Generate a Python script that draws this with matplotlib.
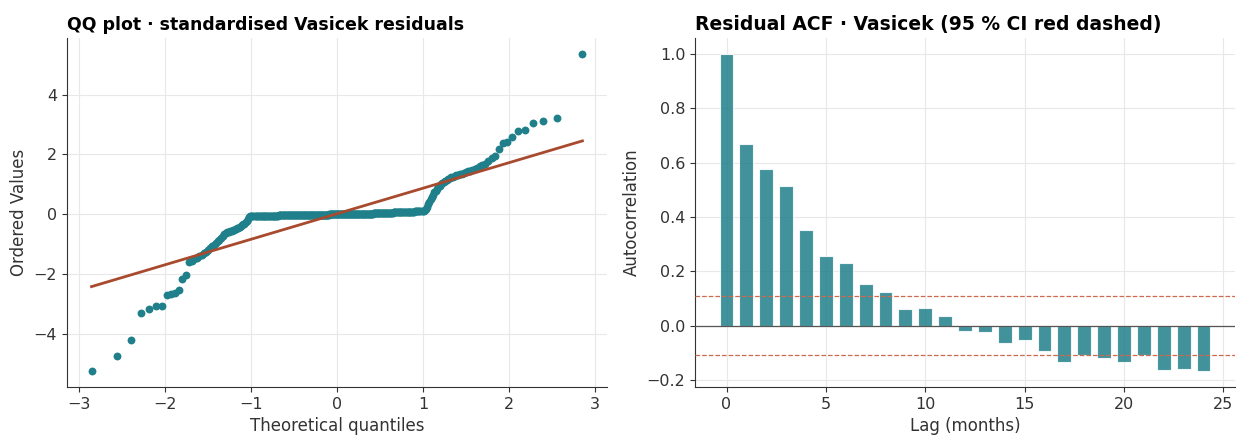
import matplotlib
matplotlib.use("Agg")
import matplotlib.pyplot as plt
import numpy as np
from statistics import NormalDist

# sorted standardised residuals (n = 324)
resid_low_tail = [-5.25, -4.75, -4.20, -3.31, -3.17, -3.08, -3.07, -2.69, -2.66, -2.64, -2.53, -2.17, -2.03]
resid_low_ramp = [-1.60, -1.55, -1.50, -1.45, -1.40, -1.35, -1.30, -1.25, -1.19, -1.13,
                  -1.07, -1.02, -0.96, -0.91, -0.85, -0.78, -0.73, -0.67, -0.62, -0.60,
                  -0.59, -0.57, -0.55, -0.53, -0.51, -0.49, -0.47, -0.45, -0.43, -0.40,
                  -0.37, -0.34, -0.31, -0.27, -0.22, -0.15, -0.08]
resid_flat = [
    -0.06, -0.06, -0.06, -0.06, -0.06, -0.06, -0.06, -0.06, -0.06, -0.06,
    -0.05, -0.05, -0.05, -0.05, -0.05, -0.05, -0.05, -0.05, -0.05, -0.05,
    -0.05, -0.05, -0.05, -0.05, -0.05, -0.05, -0.05, -0.05, -0.05, -0.05,
    -0.04, -0.04, -0.04, -0.04, -0.04, -0.04, -0.04, -0.04, -0.04, -0.04,
    -0.04, -0.04, -0.04, -0.04, -0.04, -0.04, -0.04, -0.04, -0.04, -0.04,
    -0.03, -0.03, -0.03, -0.03, -0.03, -0.03, -0.03, -0.03, -0.03, -0.03,
    -0.03, -0.03, -0.03, -0.03, -0.03, -0.03, -0.03, -0.03, -0.03, -0.03,
    -0.02, -0.02, -0.02, -0.02, -0.02, -0.02, -0.02, -0.02, -0.02, -0.02,
    -0.02, -0.02, -0.02, -0.02, -0.02, -0.02, -0.02, -0.02, -0.02, -0.02,
    -0.01, -0.01, -0.01, -0.01, -0.01, -0.01, -0.01, -0.01, -0.01, -0.01,
    0.00, 0.00, 0.00, 0.00, 0.00, 0.00, 0.00, 0.00, 0.00, 0.00, 0.00, 0.00,
    0.00, 0.00, 0.00, 0.00, 0.00, 0.00, 0.00, 0.00, 0.00, 0.00, 0.00, 0.00, 0.00, 0.00, 0.00,
    0.01, 0.01, 0.01, 0.01, 0.01, 0.01, 0.01, 0.01, 0.01, 0.01,
    0.01, 0.01, 0.01, 0.01, 0.01, 0.01, 0.01, 0.01, 0.01, 0.01,
    0.02, 0.02, 0.02, 0.02, 0.02, 0.02, 0.02, 0.02, 0.02,
    0.02, 0.02, 0.02, 0.02, 0.02, 0.02, 0.02, 0.02, 0.02,
    0.03, 0.03, 0.03, 0.03, 0.03, 0.03, 0.03, 0.03, 0.03, 0.03,
    0.04, 0.04, 0.04, 0.04, 0.04, 0.04, 0.04, 0.04,
    0.05, 0.05, 0.05, 0.05, 0.05, 0.05, 0.05, 0.05,
    0.06, 0.06, 0.06, 0.06, 0.06, 0.06, 0.06, 0.06,
    0.07, 0.07, 0.07, 0.07, 0.07, 0.07, 0.07,
    0.08, 0.08, 0.08, 0.08, 0.08, 0.09, 0.09, 0.09, 0.09,
    0.10, 0.10, 0.10, 0.10, 0.11, 0.11, 0.11, 0.11,
    0.12, 0.14, 0.18, 0.24]
resid_high_ramp = [0.33, 0.42, 0.51, 0.59, 0.66, 0.73, 0.79, 0.85, 0.90, 0.95,
                   1.00, 1.04, 1.08, 1.12, 1.15, 1.19, 1.21, 1.23, 1.25, 1.28,
                   1.30, 1.32, 1.34, 1.36, 1.38, 1.41, 1.43, 1.45, 1.48, 1.51,
                   1.55, 1.60, 1.65]
resid_high_tail = [1.69, 1.78, 1.89, 1.94, 2.18, 2.39, 2.41, 2.58, 2.79, 2.81, 3.04, 3.11, 3.23, 5.36]

# residual autocorrelation, lags 0..24
lags = list(range(25))
acf_vals = [1.000, 0.670, 0.578, 0.515, 0.352, 0.258, 0.229, 0.153, 0.125, 0.060,
            0.065, 0.035, -0.018, -0.022, -0.062, -0.054, -0.093, -0.133, -0.108, -0.120,
            -0.133, -0.108, -0.162, -0.159, -0.168]

teal = "#1f7f8a"
rust = "#a84a2e"

plt.rcParams['font.family'] = ['DejaVu Sans']
plt.rcParams['xtick.labelsize'] = 11.5
plt.rcParams['ytick.labelsize'] = 11.5
plt.rcParams['xtick.color'] = '#333333'
plt.rcParams['ytick.color'] = '#333333'

ordered = np.array(resid_low_tail + resid_low_ramp + resid_flat + resid_high_ramp + resid_high_tail)
n = len(ordered)

# Filliben order statistic medians, same as scipy.stats.probplot
m = np.empty(n)
m[-1] = 0.5 ** (1.0 / n)
m[0] = 1 - m[-1]
m[1:-1] = (np.arange(2, n) - 0.3175) / (n + 0.365)
nd = NormalDist()
theo = np.array([nd.inv_cdf(p) for p in m])
slope, intercept = np.polyfit(theo, ordered, 1)

fig, (ax1, ax2) = plt.subplots(1, 2, figsize=(12.4, 4.37), dpi=100)
fig.subplots_adjust(left=0.054, right=0.996, top=0.913, bottom=0.114, wspace=0.163)

for ax in (ax1, ax2):
    ax.grid(True, color='#e8e8e8', linewidth=0.8)
    ax.set_axisbelow(True)
    ax.spines['top'].set_visible(False)
    ax.spines['right'].set_visible(False)
    ax.spines['left'].set_color('#333333')
    ax.spines['bottom'].set_color('#333333')

# QQ plot
ax1.scatter(theo, ordered, s=32, color=teal, zorder=3, linewidths=0)
ax1.plot(theo[[0, -1]], intercept + slope * theo[[0, -1]], color=rust, linewidth=2, zorder=4)
ax1.set_title('QQ plot · standardised Vasicek residuals', loc='left', fontweight='bold', fontsize=12.5)
ax1.set_xlabel('Theoretical quantiles', fontsize=12, color='#333333')
ax1.set_ylabel('Ordered Values', fontsize=12, color='#333333')

# ACF
ci = 1.96 / np.sqrt(n)
ax2.bar(lags, acf_vals, width=0.7, color=teal, alpha=0.85, edgecolor='white', linewidth=0.8, zorder=3)
ax2.axhline(0, color='#555555', linewidth=0.9, zorder=4)
ax2.axhline(ci, color='#cc6a50', linestyle='--', linewidth=0.9, zorder=4)
ax2.axhline(-ci, color='#cc6a50', linestyle='--', linewidth=0.9, zorder=4)
ax2.set_title('Residual ACF · Vasicek (95 % CI red dashed)', loc='left', fontweight='bold', fontsize=13.5)
ax2.set_xlabel('Lag (months)', fontsize=12, color='#333333')
ax2.set_ylabel('Autocorrelation', fontsize=12, color='#333333')

fig.savefig('out.png', dpi=100)
